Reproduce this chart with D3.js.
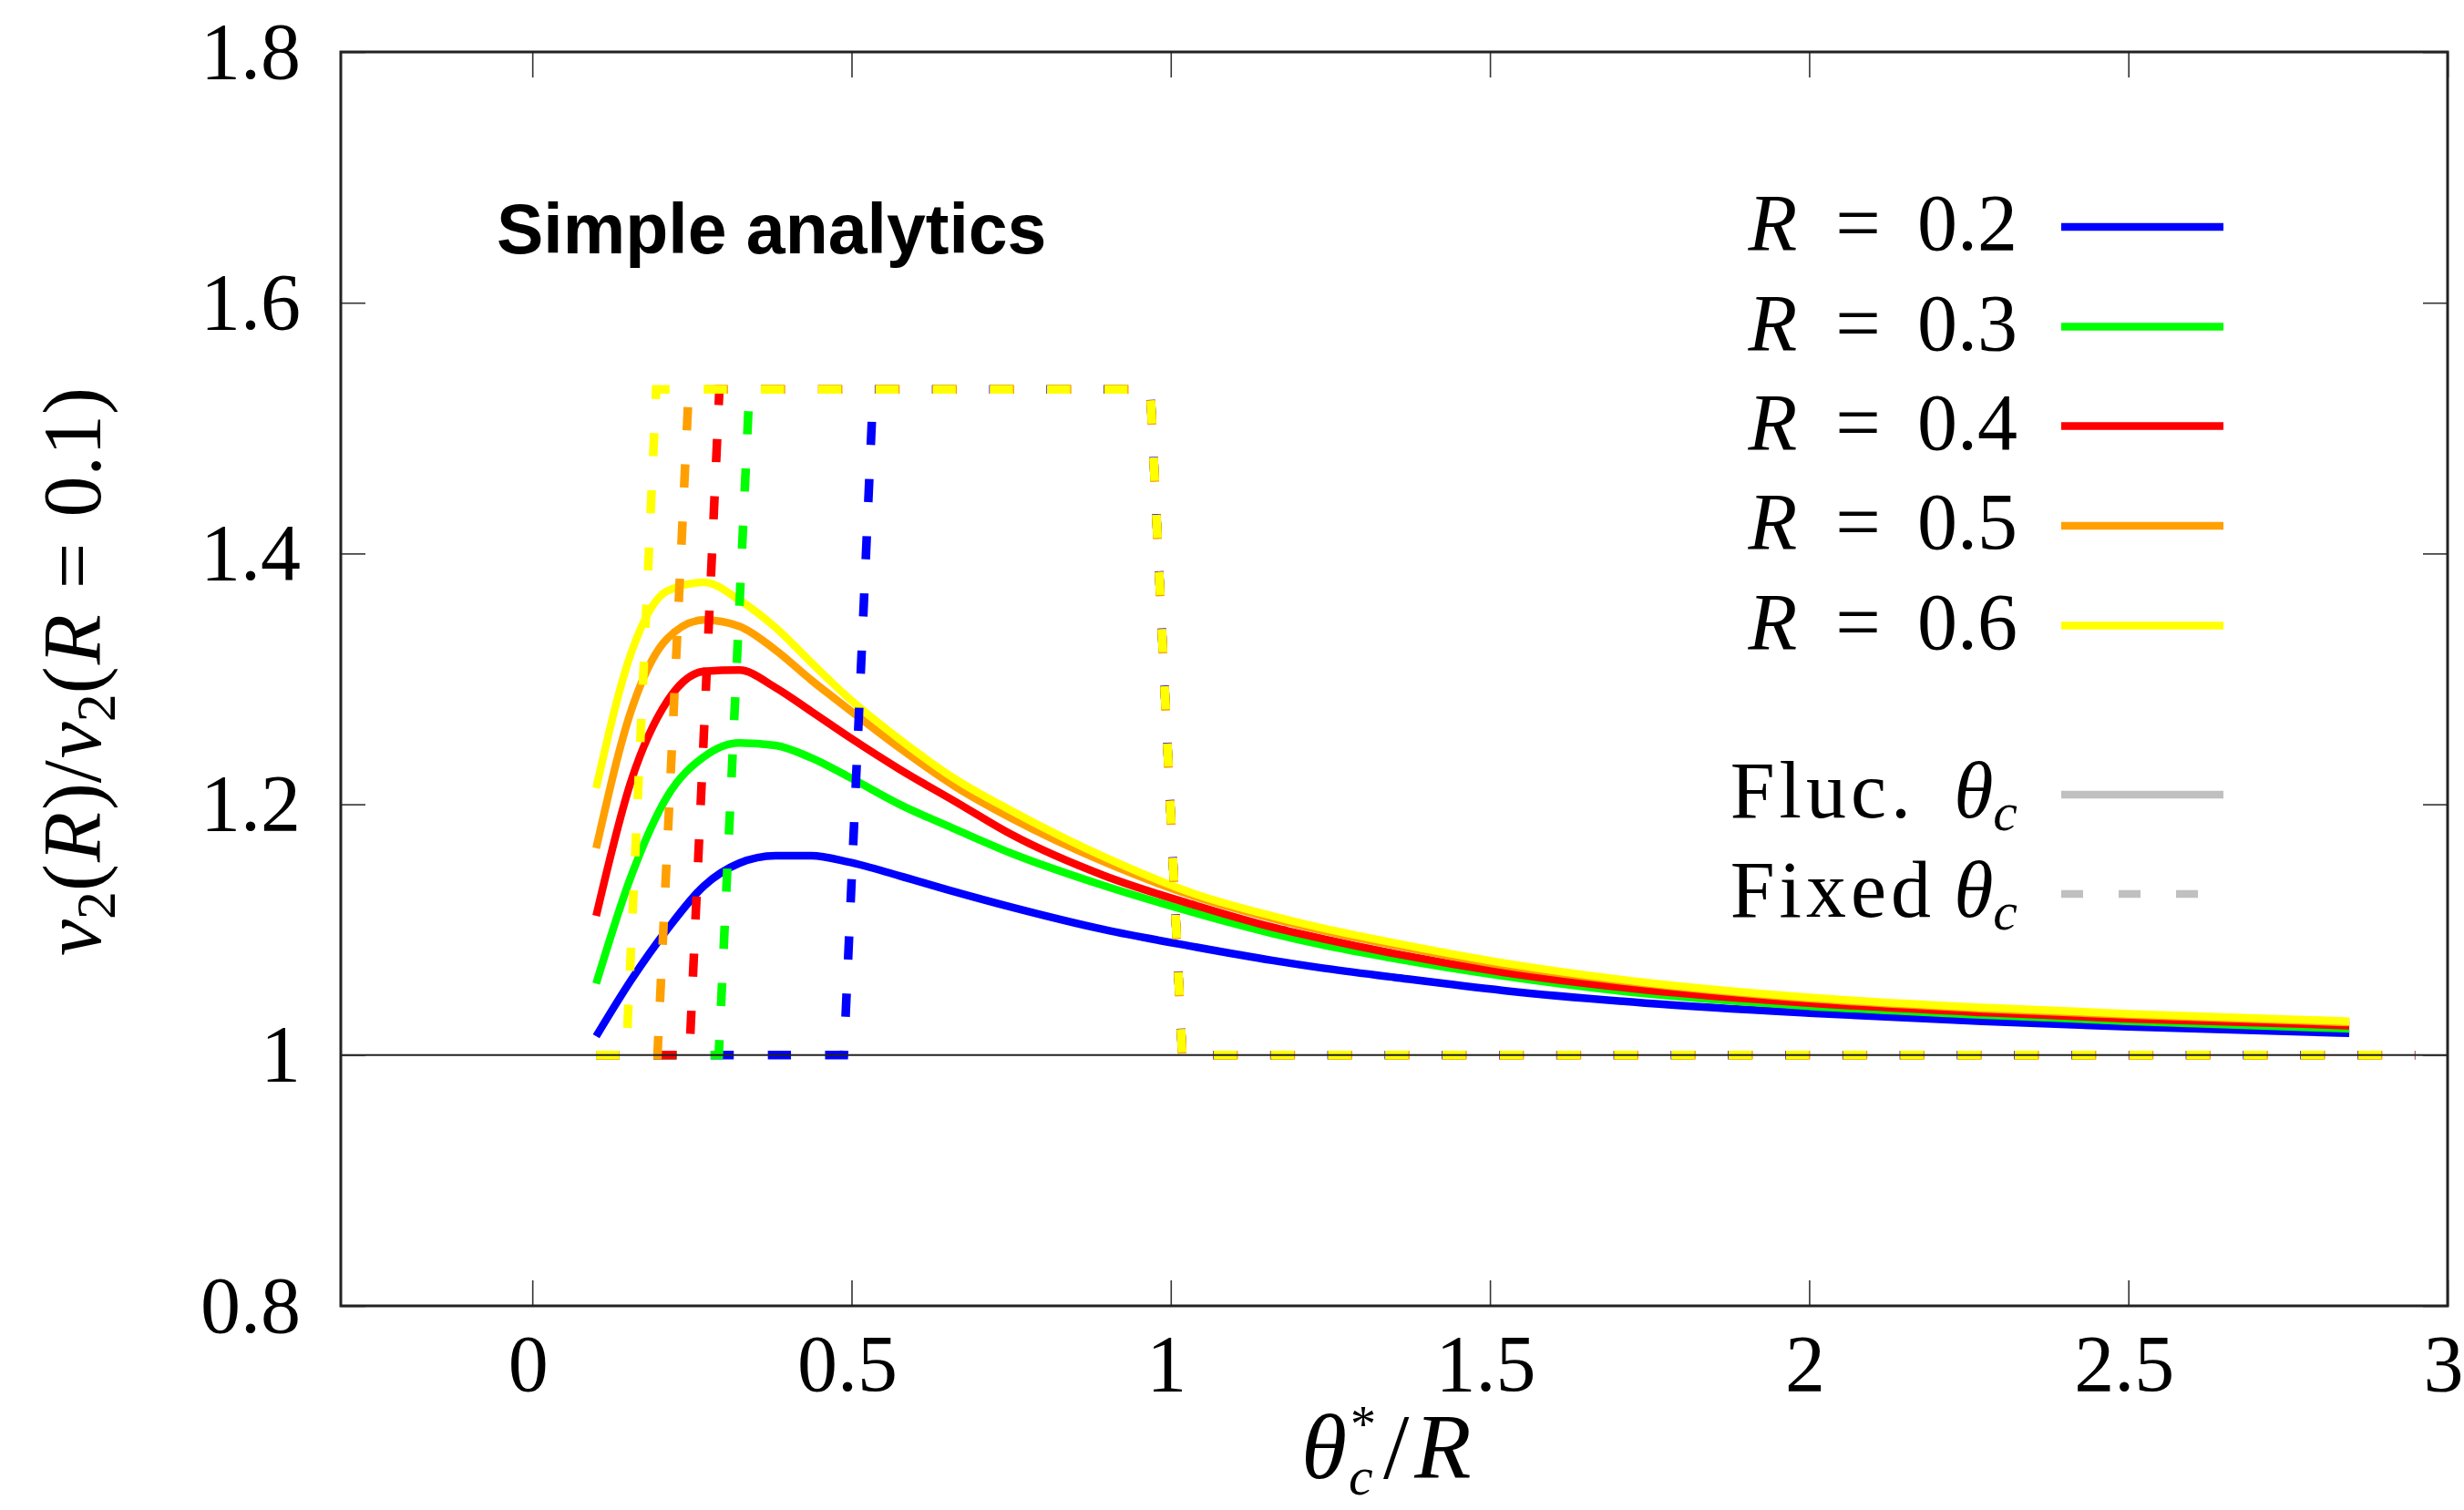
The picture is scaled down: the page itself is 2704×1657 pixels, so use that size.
<!DOCTYPE html>
<html>
<head>
<meta charset="utf-8">
<script src="https://cdn.jsdelivr.net/npm/d3@7"></script>
<style>
  html, body { margin: 0; padding: 0; background: #fff; }
  svg { display: block; }
</style>
</head>
<body>
<svg id="chart" width="2704" height="1657"></svg>
<script>
// ---------------- data ----------------
const rLabels = ["0.2", "0.3", "0.4", "0.5", "0.6"];

// shared abscissa of the "fluctuating theta_c" curves (theta_c^*/R)
const xFluc = [0.1, 0.155, 0.211, 0.269, 0.324, 0.381, 0.437, 0.495, 0.575, 0.663, 0.75, 0.896,
               1.041, 1.159, 1.236, 1.35, 1.521, 1.743, 2.0, 2.271, 2.5, 2.846];
const flucR02 = [1.015, 1.060, 1.100, 1.135, 1.153, 1.159, 1.159, 1.154, 1.143, 1.130, 1.118, 1.100,
                 1.086, 1.0755, 1.0695, 1.062, 1.0515, 1.0415, 1.0335, 1.027, 1.0225, 1.0175];
const flucR03 = [1.057, 1.143, 1.206, 1.238, 1.249, 1.247, 1.237, 1.222, 1.200, 1.180, 1.161, 1.135,
                 1.113, 1.097, 1.088, 1.077, 1.063, 1.049, 1.039, 1.032, 1.027, 1.021];
const flucR04 = [1.111, 1.219, 1.282, 1.306, 1.307, 1.293, 1.274, 1.254, 1.228, 1.202, 1.176, 1.143,
                 1.119, 1.102, 1.093, 1.081, 1.066, 1.052, 1.0415, 1.034, 1.029, 1.0235];
const flucR05 = [1.165, 1.275, 1.332, 1.347, 1.342, 1.323, 1.299, 1.276, 1.245, 1.214, 1.189, 1.154,
                 1.126, 1.109, 1.0995, 1.0875, 1.0715, 1.057, 1.045, 1.037, 1.032, 1.026];
const flucR06 = [1.213, 1.321, 1.370, 1.377, 1.363, 1.341, 1.313, 1.285, 1.252, 1.220, 1.195, 1.158,
                 1.128, 1.111, 1.1015, 1.0895, 1.0735, 1.058, 1.046, 1.038, 1.033, 1.027];

// "fixed theta_c" step curves
const fixedY   = [1.0, 1.0, 1.531, 1.531, 1.0, 1.0];
const fixedR02X = [0.1, 0.488, 0.534, 0.968, 1.018, 2.95];
const fixedR03X = [0.1, 0.292, 0.340, 0.968, 1.018, 2.95];
const fixedR04X = [0.1, 0.246, 0.293, 0.968, 1.018, 2.95];
const fixedR05X = [0.1, 0.196, 0.245, 0.968, 1.018, 2.95];
const fixedR06X = [0.1, 0.147, 0.194, 0.968, 1.018, 2.95];

const xTicks = [0, 0.5, 1, 1.5, 2, 2.5, 3];
const xTickLabels = ["0", "0.5", "1", "1.5", "2", "2.5", "3"];
const yTicks = [0.8, 1.0, 1.2, 1.4, 1.6, 1.8];
const yTickLabels = ["0.8", "1", "1.2", "1.4", "1.6", "1.8"];

// ---------------- styles ----------------
const colors = ["#0000ff", "#00ff00", "#ff0000", "#ffa000", "#ffff00"];
const legendGray = "#c0c0c0";
const serif = "'Liberation Serif', 'Times New Roman', serif";

// ---------------- layout ----------------
const svg = d3.select("#chart");
const L = 374, R = 2686, T = 57, B = 1433;
const x = d3.scaleLinear().domain([-0.3, 3]).range([L, R]);
const y = d3.scaleLinear().domain([0.8, 1.8]).range([B, T]);

const flucSeries = [flucR02, flucR03, flucR04, flucR05, flucR06];
const fixedSeries = [fixedR02X, fixedR03X, fixedR04X, fixedR05X, fixedR06X];

const line = d3.line().x(d => x(d[0])).y(d => y(d[1]));
const smooth = d3.line().x(d => x(d[0])).y(d => y(d[1])).curve(d3.curveMonotoneX);

// solid curves
const gData = svg.append("g");
flucSeries.forEach((vals, i) => {
  gData.append("path")
    .datum(xFluc.map((xv, j) => [xv, vals[j]]))
    .attr("d", smooth)
    .attr("fill", "none")
    .attr("stroke", colors[i])
    .attr("stroke-width", 8.5)
    .attr("stroke-linejoin", "round");
});
// dashed curves
fixedSeries.forEach((xs, i) => {
  gData.append("path")
    .datum(xs.map((xv, j) => [xv, fixedY[j]]))
    .attr("d", line)
    .attr("fill", "none")
    .attr("stroke", colors[i])
    .attr("stroke-width", 9.5)
    .attr("stroke-dasharray", "25.4 37.4")
    .attr("stroke-linecap", "butt");
});

// y = 1 reference line
svg.append("line")
  .attr("x1", L).attr("x2", R)
  .attr("y1", y(1)).attr("y2", y(1))
  .attr("stroke", "#222").attr("stroke-width", 2);

// axes (ticks inside)
function styleAxis(g) {
  g.select(".domain").remove();
  g.selectAll(".tick line").attr("stroke", "#333").attr("stroke-width", 1.6);
  g.selectAll(".tick text")
    .attr("fill", "#000")
    .style("font-family", serif)
    .style("font-size", "88px");
}
svg.append("g").attr("transform", `translate(0,${B})`)
  .call(d3.axisBottom(x).tickValues(xTicks).tickSizeInner(-28).tickSizeOuter(0).tickPadding(31)
        .tickFormat((d, i) => xTickLabels[i]))
  .call(styleAxis)
  .call(g => g.selectAll(".tick text").attr("dx", "-5"));
svg.append("g").attr("transform", `translate(0,${T})`)
  .call(d3.axisTop(x).tickValues(xTicks).tickSizeInner(-28).tickSizeOuter(0).tickFormat(""))
  .call(styleAxis);
svg.append("g").attr("transform", `translate(${L},0)`)
  .call(d3.axisLeft(y).tickValues(yTicks).tickSizeInner(-27).tickSizeOuter(0).tickPadding(44)
        .tickFormat((d, i) => yTickLabels[i]))
  .call(styleAxis);
svg.append("g").attr("transform", `translate(${R},0)`)
  .call(d3.axisRight(y).tickValues(yTicks).tickSizeInner(-27).tickSizeOuter(0).tickFormat(""))
  .call(styleAxis);

// frame
svg.append("rect")
  .attr("x", L).attr("y", T).attr("width", R - L).attr("height", B - T)
  .attr("fill", "none").attr("stroke", "#222").attr("stroke-width", 3);

// annotation
svg.append("text")
  .attr("x", 545).attr("y", 278)
  .style("font-family", "'Liberation Sans', Arial, Helvetica, sans-serif")
  .style("font-weight", "bold").style("font-size", "77px")
  .text("Simple analytics");

// x-axis title  θ*_c / R  (superscript and subscript as separate texts)
const xtG = svg.append("g");
const xtBase = 1622, xtLeft = 1428;
xtG.append("text").attr("x", xtLeft).attr("y", xtBase)
  .style("font-family", serif).style("font-size", "102px").style("font-style", "italic")
  .text("θ");
xtG.append("text").attr("x", xtLeft + 54).attr("y", xtBase - 40)
  .style("font-family", serif).style("font-size", "56px")
  .text("*");
xtG.append("text").attr("x", xtLeft + 52).attr("y", xtBase + 18)
  .style("font-family", serif).style("font-size", "60px").style("font-style", "italic")
  .text("c");
const xtRest = xtG.append("text").attr("x", xtLeft + 90).attr("y", xtBase)
  .style("font-family", serif).style("font-size", "102px");
xtRest.append("tspan").text("/");
xtRest.append("tspan").attr("dx", 6).style("font-style", "italic").text("R");

// y-axis title  v2(R)/v2(R = 0.1)
const yt = svg.append("text")
  .attr("transform", `translate(110,${(T + B) / 2 - 8}) rotate(-90)`)
  .attr("text-anchor", "middle")
  .style("font-family", serif).style("font-size", "90px");
yt.append("tspan").style("font-style", "italic").text("v");
yt.append("tspan").style("font-size", "62px").attr("dy", 16).text("2");
yt.append("tspan").attr("dy", -16).text("(");
yt.append("tspan").style("font-style", "italic").attr("dx", 2).text("R");
yt.append("tspan").attr("dx", 2).text(")/");
yt.append("tspan").style("font-style", "italic").attr("dx", 2).text("v");
yt.append("tspan").style("font-size", "62px").attr("dy", 16).text("2");
yt.append("tspan").attr("dy", -16).text("(");
yt.append("tspan").style("font-style", "italic").attr("dx", 2).text("R");
yt.append("tspan").attr("dx", 28).text("=");
yt.append("tspan").attr("dx", 28).text("0.1)");

// legend
const legX1 = 2262, legX2 = 2440, legTextX = 2214;
const legRows = [249, 358.5, 467.5, 577, 686.5];
rLabels.forEach((lab, i) => {
  const yy = legRows[i];
  svg.append("line").attr("x1", legX1).attr("x2", legX2).attr("y1", yy).attr("y2", yy)
    .attr("stroke", colors[i]).attr("stroke-width", 8.5);
  const t = svg.append("text").attr("x", legTextX).attr("y", yy + 25)
    .attr("text-anchor", "end").style("font-family", serif).style("font-size", "88px");
  t.append("tspan").style("font-style", "italic").text("R");
  t.append("tspan").attr("dx", 42).text("=");
  t.append("tspan").attr("dx", 40).text(lab);
});
const grayRows = [872, 981];
const grayNames = ["Fluc.", "Fixed"];
grayRows.forEach((yy, i) => {
  svg.append("line").attr("x1", legX1).attr("x2", i === 0 ? legX2 : 2412).attr("y1", yy).attr("y2", yy)
    .attr("stroke", legendGray).attr("stroke-width", 8.5)
    .attr("stroke-dasharray", i === 0 ? null : "24 39");
  const t = svg.append("text").attr("x", legTextX).attr("y", yy + 25)
    .attr("text-anchor", "end").style("font-family", serif).style("font-size", "88px");
  t.append("tspan").style("letter-spacing", "5px").text(grayNames[i]);
  t.append("tspan").style("font-style", "italic").attr("dx", i === 0 ? 42 : 20).text("θ");
  t.append("tspan").style("font-size", "60px").style("font-style", "italic").attr("dy", 14).text("c");
});
</script>
</body>
</html>
